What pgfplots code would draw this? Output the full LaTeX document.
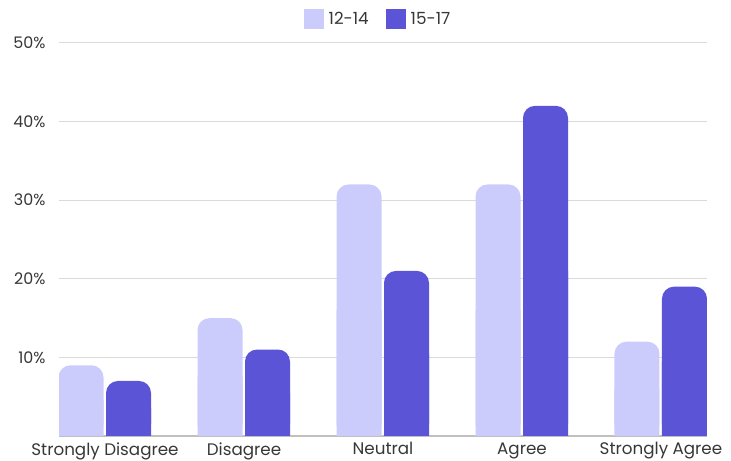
\documentclass[border=0pt]{standalone}
\usepackage{pgfplots}
\usepackage{pgfplotstable}
\pgfplotsset{compat=1.18}
\usepackage{fontspec}
\setmainfont{Poppins}

\definecolor{lightbar}{RGB}{204,204,252}
\definecolor{darkbar}{RGB}{91,84,214}
\definecolor{txt}{RGB}{55,55,55}
\definecolor{gridc}{RGB}{218,218,218}
\definecolor{basec}{RGB}{192,192,192}

% share of responses (%) by age group
\pgfplotstableread{
x young old
0 9 7
1 15 11
2 32 21
3 32 42
4 12 19
}\datatable

\begin{document}
\begin{tikzpicture}
\path[use as bounding box] (0,0) rectangle (731bp,461bp);
\begin{axis}[
  at={(59bp,25bp)}, anchor=south west,
  scale only axis, width=648bp, height=393bp,
  xmin=-0.331, xmax=4.331, ymin=0, ymax=50,
  xtick={0,1,2,3,4},
  xticklabels={Strongly Disagree,Disagree,Neutral,Agree,Strongly Agree},
  ytick={10,20,30,40,50},
  yticklabel={\pgfmathprintnumber{\tick}\%},
  /pgf/number format/assume math mode=true,
  axis x line*=bottom, axis y line*=left,
  x axis line style={basec, line width=2bp},
  y axis line style={draw=none},
  ymajorgrids, grid style={gridc, line width=1bp},
  major tick length=0pt,
  tick label style={text=txt},
  xticklabel style={font=\fontsize{16.8}{18}\selectfont, yshift=-3bp},
  yticklabel style={font=\fontsize{16}{18}\selectfont, xshift=-10bp},
  legend style={at={(0.5,1)}, anchor=south, xshift=-5bp, yshift=12bp, draw=none,
    font=\fontsize{16.8}{18}\selectfont, text=txt,
    /tikz/every odd column/.append style={column sep=3bp},
    /tikz/every even column/.append style={column sep=15bp}},
  legend columns=-1,
]
% squared-off lower part of each bar, drawn first
\addplot[ybar, bar width=45bp, bar shift=-24bp, fill=lightbar, draw=none, forget plot]
  table[x=x, y expr=\thisrow{young}/2] {\datatable};
\addplot[ybar, bar width=45bp, bar shift=23.5bp, fill=darkbar, draw=none, forget plot]
  table[x=x, y expr=\thisrow{old}/2] {\datatable};
% full bars with rounded tops
\addplot[ybar, bar width=45bp, bar shift=-24bp, fill=lightbar, draw=none,
  rounded corners=12bp,
  legend image code/.code={\fill[lightbar, sharp corners] (0bp,-10bp) rectangle (20bp,10bp);}]
  table[x=x, y=young] {\datatable};
\addlegendentry{12-14}
\addplot[ybar, bar width=45bp, bar shift=23.5bp, fill=darkbar, draw=none,
  rounded corners=12bp,
  legend image code/.code={\fill[darkbar, sharp corners] (0bp,-10bp) rectangle (20bp,10bp);}]
  table[x=x, y=old] {\datatable};
\addlegendentry{15-17}
\end{axis}
\end{tikzpicture}
\end{document}
